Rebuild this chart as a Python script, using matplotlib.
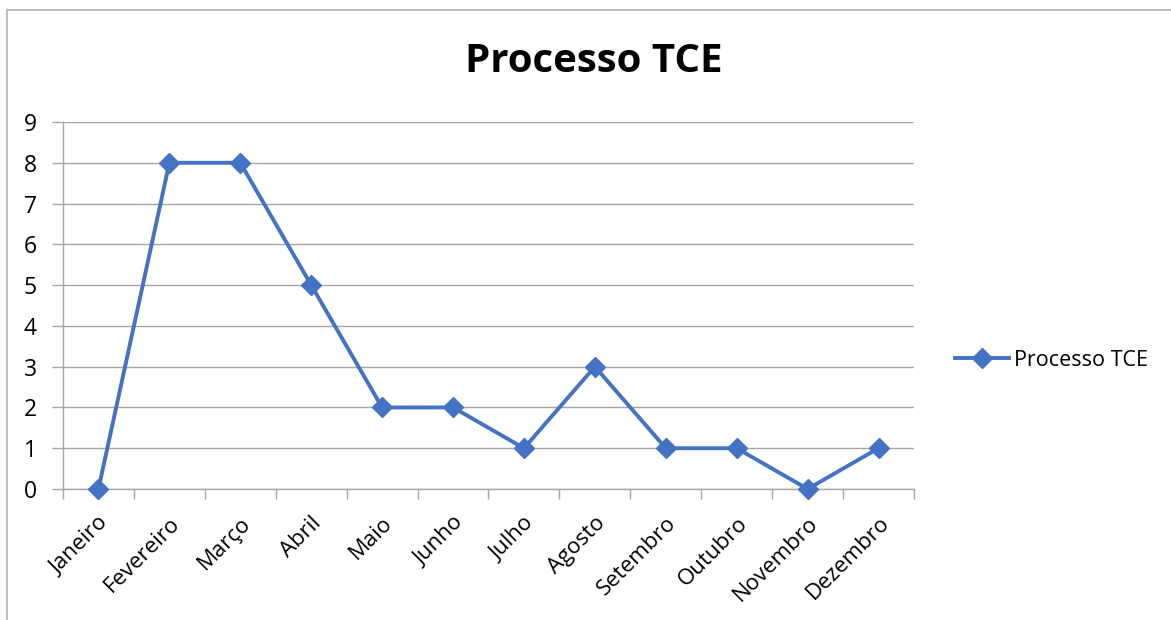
import matplotlib
matplotlib.use("Agg")
import matplotlib.pyplot as plt
import numpy as np
from matplotlib.patches import Rectangle

months = ["Janeiro", "Fevereiro", "Março", "Abril", "Maio", "Junho", "Julho",
          "Agosto", "Setembro", "Outubro", "Novembro", "Dezembro"]
values = [0, 8, 8, 5, 2, 2, 1, 3, 1, 1, 0, 1]
series_name = "Processo TCE"
title = "Processo TCE"

plt.rcParams['font.family'] = ['Open Sans', 'DejaVu Sans']

W, H = 1171, 620
fig = plt.figure(figsize=(W / 100, H / 100), dpi=100)
ax = fig.add_axes([63 / W, 1 - 489 / H, (914 - 63) / W, (489 - 122) / H])

x = np.arange(len(months))
blue = "#4472C4"
grid_c = "#A6A6A6"
ax.plot(x, values, color=blue, lw=2.8, marker="D", markersize=10,
        label=series_name, clip_on=False, zorder=3)

ax.set_xlim(-0.5, len(months) - 0.5)
ax.set_ylim(0, 9)
ax.set_yticks(range(0, 10))
ax.yaxis.grid(True, color=grid_c, lw=1)
ax.set_axisbelow(True)

ax.set_xticks(x)
ax.set_xticklabels(months, rotation=45, ha="right", va="top",
                   rotation_mode="anchor", fontsize=16)
ax.set_xticks(np.arange(-0.5, len(months)), minor=True)
ax.tick_params(axis="x", which="major", length=0, pad=17)
ax.tick_params(axis="x", which="minor", length=7, color=grid_c, width=1,
               direction="out")
ax.tick_params(axis="y", length=8, color=grid_c, width=1, labelsize=16.5,
               pad=11)

for s in ["top", "right"]:
    ax.spines[s].set_visible(False)
for s in ["left", "bottom"]:
    ax.spines[s].set_color(grid_c)
    ax.spines[s].set_linewidth(1)
ax.spines["left"].set_bounds(0, 9)

fig.text(594 / W, 1 - 62 / H, title, ha="center", va="center",
         fontsize=29, fontweight="bold")

leg = fig.legend(loc="center left", bbox_to_anchor=(936 / W, 1 - 360 / H),
                 frameon=False, fontsize=15.5, handlelength=2.5,
                 handletextpad=0.2)

fig.patches.append(Rectangle((7 / W, -0.1), 1.2, 1.1 - 10 / H,
                             transform=fig.transFigure, fill=False,
                             edgecolor="#B4B4B4", lw=1.2))

fig.savefig("out.png", dpi=100)
